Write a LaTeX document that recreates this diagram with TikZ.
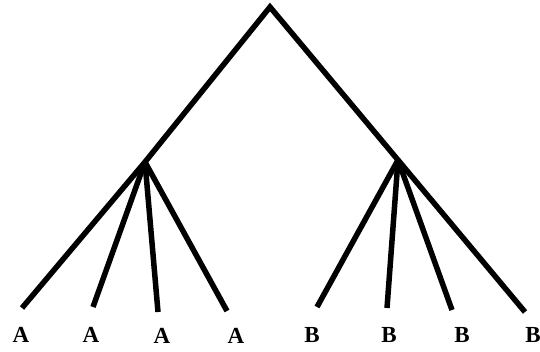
\documentclass[tikz,border=0pt]{standalone}
\usepackage{fontspec}
\setmainfont{Liberation Serif}
\begin{document}
\begin{tikzpicture}[x=1pt,y=-1pt,
  edge/.style={line width=5.5pt},
  lbl/.style={font=\fontsize{23}{25}\selectfont\bfseries, inner sep=0pt}]
\useasboundingbox (0,0) rectangle (540,351);
\coordinate (root) at (270,7);
\coordinate (L) at (145,162);
\coordinate (R) at (398,160);
\coordinate (a1) at (22,308);
\coordinate (a2) at (93,307);
\coordinate (a3) at (158,312);
\coordinate (a4) at (227,311);
\coordinate (b1) at (317,307);
\coordinate (b2) at (387,308);
\coordinate (b3) at (452,310);
\coordinate (b4) at (525,312);
\draw[edge] (a1) -- (L) -- (root) -- (R) -- (b4);
\foreach \n in {a2,a3,a4} \draw[edge] (L) -- (\n);
\foreach \n in {b1,b2,b3} \draw[edge] (R) -- (\n);
\node[lbl] (A1) at (21,335) {A};
\node[lbl] (A2) at (91,335) {A};
\node[lbl] (A3) at (162,336) {A};
\node[lbl] (A4) at (236,336) {A};
\node[lbl] (B1) at (312,335) {B};
\node[lbl] (B2) at (389,335) {B};
\node[lbl] (B3) at (462,335) {B};
\node[lbl] (B4) at (533,335) {B};
\end{tikzpicture}
\end{document}
